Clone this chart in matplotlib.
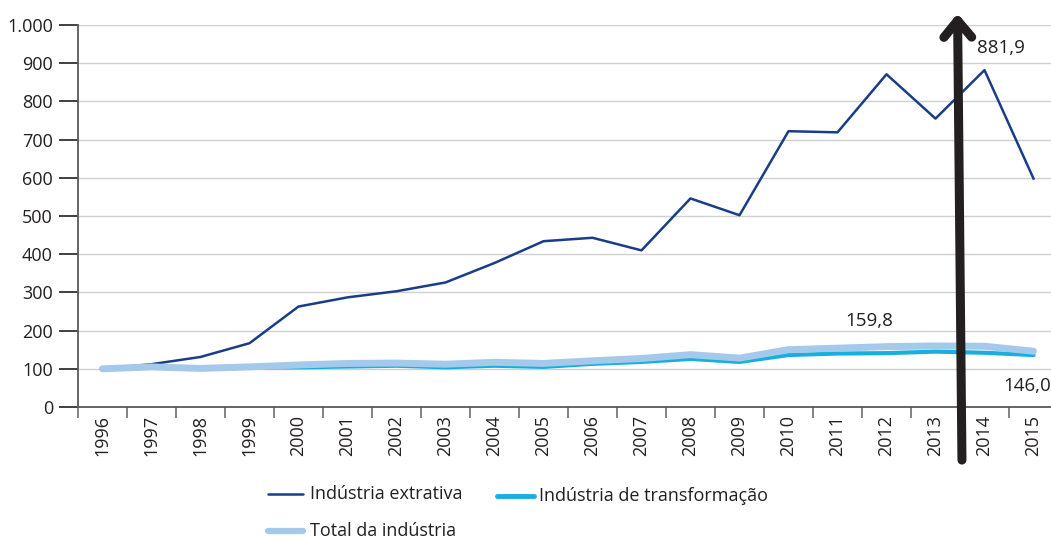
import matplotlib
matplotlib.use("Agg")
import matplotlib.pyplot as plt
from matplotlib.lines import Line2D
import numpy as np

plt.rcParams['font.family'] = ['Open Sans', 'DejaVu Sans']

years = [str(y) for y in range(1996, 2016)]
extrativa = [100, 112, 131, 167, 263, 287, 303, 326, 377, 434,
             443, 410, 546, 502, 722, 719, 871, 755, 881.9, 598]
transformacao = [100, 103, 100, 103, 104, 106, 108, 104, 108, 105,
                 113, 118, 126, 118, 136, 140, 141, 145, 142, 136]
total = [100, 105, 101, 105, 110, 114, 115, 112, 117, 114,
         121, 127, 137, 128, 150, 154, 158, 159.8, 159, 146]
yticks = [0, 100, 200, 300, 400, 500, 600, 700, 800, 900, 1000]
ytick_labels = ["0", "100", "200", "300", "400", "500", "600", "700", "800", "900", "1.000"]

W, H = 1051, 540
fig = plt.figure(figsize=(W / 100, H / 100), dpi=100)
ax = fig.add_axes([78 / W, (H - 407) / H, 980 / W, 382 / H])

x = np.arange(len(years))
c_ext = "#1a3d87"
c_tr = "#17afe0"
c_tot = "#a4c9eb"
ax.plot(x, extrativa, color=c_ext, lw=1.8, zorder=3)
ax.plot(x, transformacao, color=c_tr, lw=3.0, zorder=4, solid_capstyle='round')
ax.plot(x, total, color=c_tot, lw=5.0, zorder=5, solid_capstyle='round')

ax.set_xlim(-0.5, len(years) - 0.5)
ax.set_ylim(0, 1000)
ax.set_yticks(yticks)
ax.set_yticklabels(ytick_labels, fontsize=13, color="#231f20")
ax.set_xticks(x)
ax.set_xticklabels(years, rotation=90, fontsize=13, color="#231f20")
ax.set_xticks(np.arange(-0.5, len(years), 1.0), minor=True)
ax.tick_params(axis='x', which='major', length=0, pad=6)
ax.tick_params(axis='x', which='minor', length=8, width=1.2, color="#6d6e70")
ax.tick_params(axis='y', length=14, width=1.2, color="#231f20", pad=4)
ax.yaxis.grid(True, color="#d0d0d0", lw=1.0)
ax.set_axisbelow(True)
for s in ['top', 'right']:
    ax.spines[s].set_visible(False)
for s in ['left', 'bottom']:
    ax.spines[s].set_color("#58595b")
    ax.spines[s].set_linewidth(1.3)

ax.text(18.34, 940, "881,9", fontsize=13.5, color="#231f20", ha='center', va='center')
ax.text(15.64, 225, "159,8", fontsize=13.5, color="#231f20", ha='center', va='center')
ax.text(18.87, 55, "146,0", fontsize=13.5, color="#231f20", ha='center', va='center')

# Arrow
ax.annotate("", xy=(17.45, 1030), xytext=(17.54, -139), xycoords='data',
            arrowprops=dict(arrowstyle="->,head_length=1.2,head_width=1.0",
                            color="#231f20", lw=6.5, shrinkA=0, shrinkB=0,
                            capstyle='round', joinstyle='round'),
            annotation_clip=False, zorder=10)

# Legend (manual)
def leg(x0, x1, y, color, lw, label, tx):
    fig.add_artist(Line2D([x0 / W, x1 / W], [1 - y / H, 1 - y / H], color=color, lw=lw,
                          solid_capstyle='round'))
    fig.text(tx / W, 1 - y / H, label, fontsize=13, color="#231f20", va='center', ha='left')

leg(268, 303, 494, c_ext, 1.8, "Indústria extrativa", 310)
leg(497, 534, 496, c_tr, 3.5, "Indústria de transformação", 539)
leg(268, 303, 531, c_tot, 4.5, "Total da indústria", 310)

fig.savefig("out.png", dpi=100)
